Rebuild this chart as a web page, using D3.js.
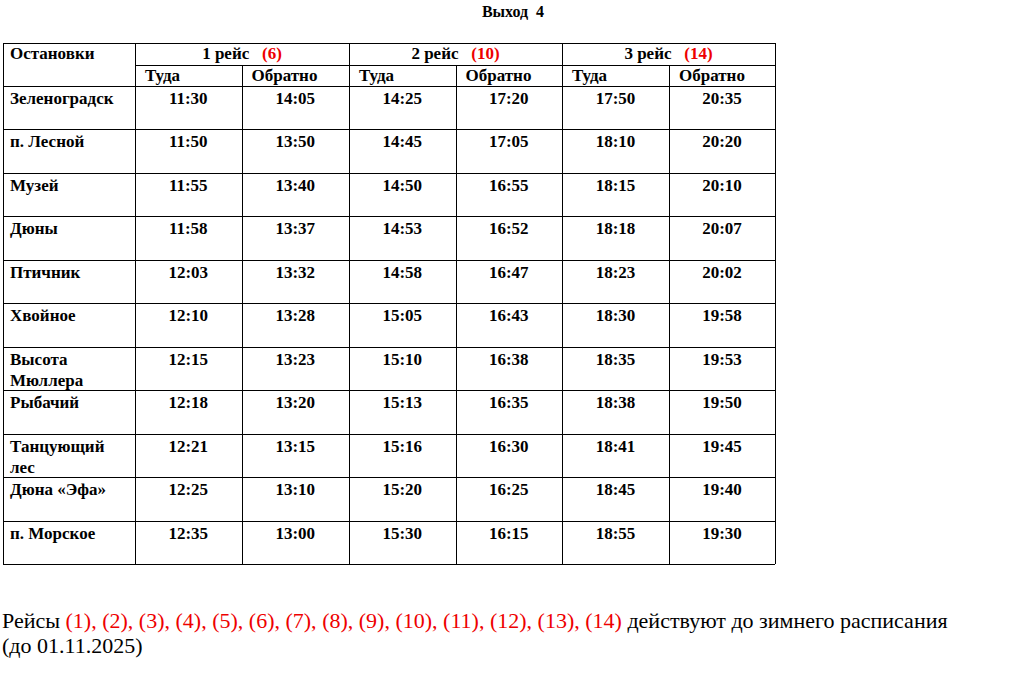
<!DOCTYPE html><html><head><meta charset="utf-8"><script src="https://cdn.jsdelivr.net/npm/d3@7"></script>
<style>body{margin:0;background:#fff}svg{font-family:"Liberation Serif","Times New Roman",serif}text{white-space:pre}</style></head><body>
<script>
const title="Выход  4";
const trips=[{name:"1 рейс",num:"(6)"},{name:"2 рейс",num:"(10)"},{name:"3 рейс",num:"(14)"}];
const directions=["Туда","Обратно"];
const stops=[["Зеленоградск"],["п. Лесной"],["Музей"],["Дюны"],["Птичник"],["Хвойное"],["Высота","Мюллера"],["Рыбачий"],["Танцующий","лес"],["Дюна «Эфа»"],["п. Морское"]];
const times=[
["11:30","14:05","14:25","17:20","17:50","20:35"],
["11:50","13:50","14:45","17:05","18:10","20:20"],
["11:55","13:40","14:50","16:55","18:15","20:10"],
["11:58","13:37","14:53","16:52","18:18","20:07"],
["12:03","13:32","14:58","16:47","18:23","20:02"],
["12:10","13:28","15:05","16:43","18:30","19:58"],
["12:15","13:23","15:10","16:38","18:35","19:53"],
["12:18","13:20","15:13","16:35","18:38","19:50"],
["12:21","13:15","15:16","16:30","18:41","19:45"],
["12:25","13:10","15:20","16:25","18:45","19:40"],
["12:35","13:00","15:30","16:15","18:55","19:30"]];
const footnoteNums=["(1)","(2)","(3)","(4)","(5)","(6)","(7)","(8)","(9)","(10)","(11)","(12)","(13)","(14)"];

const svg=d3.select("body").append("svg").attr("width",1024).attr("height",684);
const colX=[3,135,241.5,349,455.5,562,669,775];
const y=d3.scaleBand().domain(d3.range(stops.length)).range([86,564]);
const L=svg.append("g").attr("stroke","#000").attr("stroke-width",1).attr("shape-rendering","crispEdges");
const hl=(x1,x2,yy)=>L.append("line").attr("x1",x1).attr("x2",x2).attr("y1",yy).attr("y2",yy);
const vl=(xx,y1,y2)=>L.append("line").attr("x1",xx).attr("x2",xx).attr("y1",y1).attr("y2",y2);
hl(3,775,43.5);hl(135,775,65.5);
[86,...d3.range(stops.length).map(i=>y(i)+y.bandwidth())].forEach(v=>hl(3,775,Math.round(v)+0.5));
colX.forEach((x,i)=>vl(Math.round(x)+0.5,([2,4,6].includes(i))?65:43,564));
svg.append("text").attr("x",513).attr("y",17).attr("text-anchor","middle").attr("font-weight","bold").attr("font-size",16).text(title);
const T=svg.append("g").attr("font-weight","bold").attr("font-size",17).attr("fill","#000");
T.append("text").attr("x",10).attr("y",59).text("Остановки");
trips.forEach((t,i)=>{const tx=T.append("text").attr("x",(colX[1+2*i]+colX[3+2*i])/2).attr("y",59).attr("text-anchor","middle");
 tx.append("tspan").text(t.name+"   ");tx.append("tspan").attr("fill","#e00").text(t.num);
 directions.forEach((d,j)=>T.append("text").attr("x",colX[1+2*i+j]+10).attr("y",81).text(d));});
stops.forEach((s,i)=>{s.forEach((ln,k)=>T.append("text").attr("x",10).attr("y",y(i)+18+k*21).text(ln));
 times[i].forEach((t,j)=>T.append("text").attr("x",(colX[1+j]+colX[2+j])/2).attr("y",y(i)+18).attr("text-anchor","middle").text(t));});
const f=svg.append("text").attr("x",2).attr("y",628).attr("font-size",22);
f.append("tspan").text("Рейсы ");
footnoteNums.forEach((n,i)=>{f.append("tspan").attr("fill","#e00").text(n+(i<footnoteNums.length-1?", ":""));});
f.append("tspan").text(" действуют до зимнего расписания");
svg.append("text").attr("x",2).attr("y",653).attr("font-size",22).text("(до 01.11.2025)");
</script></body></html>
